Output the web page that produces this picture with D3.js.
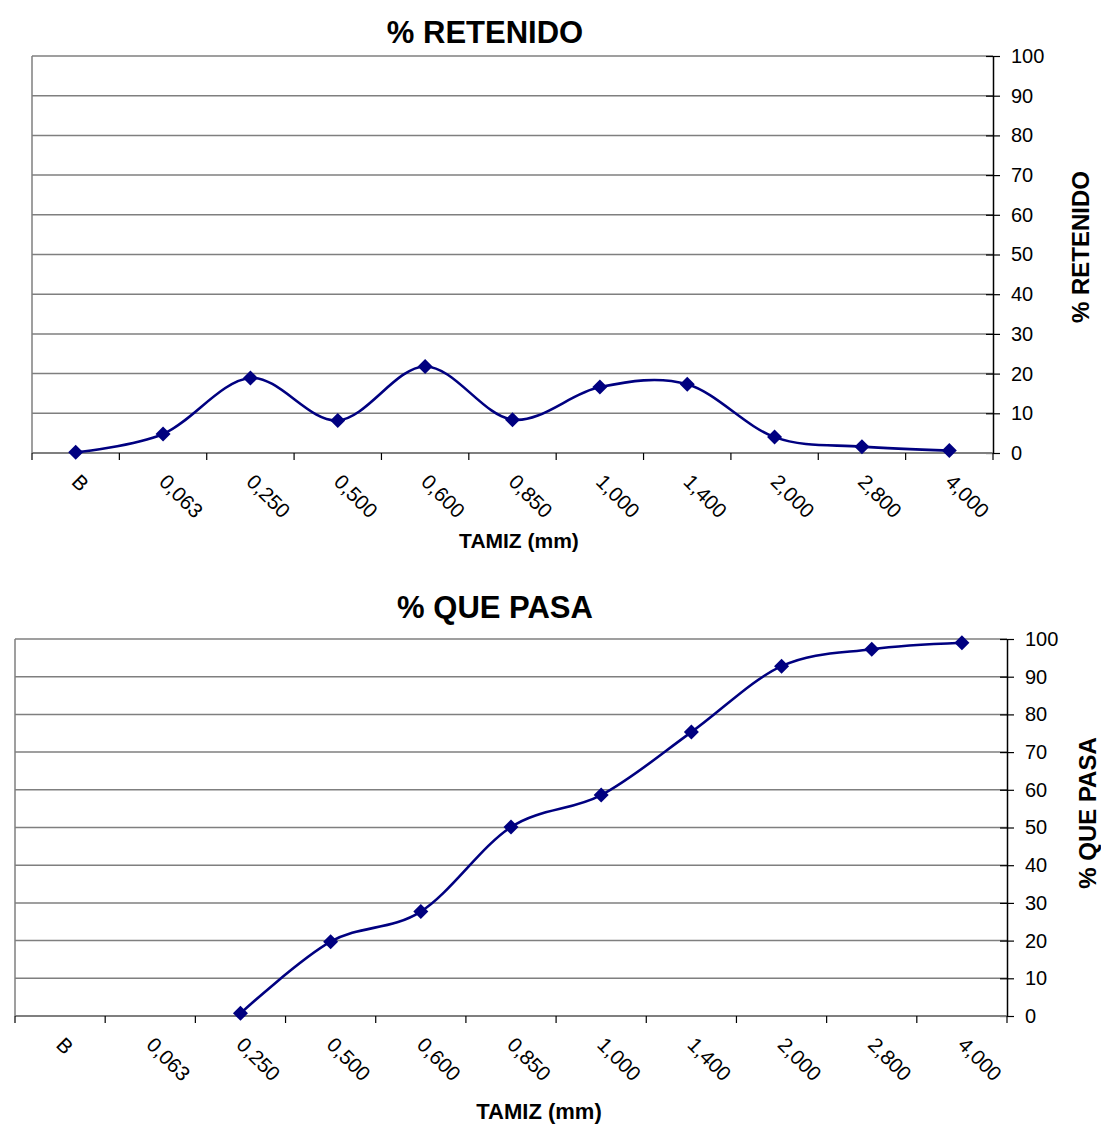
<!DOCTYPE html>
<html><head><meta charset="utf-8">
<script src="https://cdn.jsdelivr.net/npm/d3@7"></script>
<style>body{margin:0;background:#fff;} text{font-family:"Liberation Sans",Arial,sans-serif;}</style>
</head><body>
<svg id="c" width="1101" height="1124"></svg>
<script>
const categories = ["B","0,063","0,250","0,500","0,600","0,850","1,000","1,400","2,000","2,800","4,000"];
const retenido = [0.2,4.8,18.9,8.2,21.8,8.4,16.6,17.3,4.0,1.6,0.6];
const quePasa = [null,null,0.7,19.7,27.7,50.1,58.6,75.3,92.8,97.3,99.0];
const yTicks = [0,10,20,30,40,50,60,70,80,90,100];

const svg = d3.select("#c");

function drawChart(cfg){
  const {left,right,top,bottom,values,title,titleX,titleY,xTitleX,xTitleY,xTitleSize,yTitleX,yTitleY} = cfg;
  const g = svg.append("g");
  const x = d3.scaleBand().domain(categories).range([left,right]);
  const y = d3.scaleLinear().domain([0,100]).range([bottom,top]);
  g.append("g").selectAll("line").data(yTicks).join("line")
    .attr("x1",left).attr("x2",right).attr("y1",d=>y(d)).attr("y2",d=>y(d))
    .attr("stroke","#7f7f7f").attr("stroke-width",1.5);
  g.append("line").attr("x1",left).attr("x2",left).attr("y1",top).attr("y2",bottom)
    .attr("stroke","#7f7f7f").attr("stroke-width",1.5);
  const ya = d3.axisRight(y).tickValues(yTicks).tickSize(7).tickPadding(11).tickSizeOuter(0);
  const yg = g.append("g").attr("transform",`translate(${right},0)`).call(ya);
  yg.select(".domain").attr("stroke","#000").attr("stroke-width",1.5);
  yg.selectAll(".tick line").attr("stroke","#000").attr("stroke-width",1.2).attr("x1",-7);
  yg.selectAll(".tick text").attr("font-size",20).attr("fill","#000").attr("font-family","Liberation Sans, Arial, sans-serif");
  const bounds = categories.map(c=>x(c)).concat([right]);
  g.append("line").attr("x1",left).attr("x2",right).attr("y1",bottom).attr("y2",bottom)
    .attr("stroke","#7f7f7f").attr("stroke-width",1.8);
  g.append("g").selectAll("line").data(bounds).join("line")
    .attr("x1",d=>d).attr("x2",d=>d).attr("y1",bottom).attr("y2",bottom+7)
    .attr("stroke","#000").attr("stroke-width",1.2);
  g.append("g").selectAll("text").data(categories).join("text")
    .attr("transform",d=>`translate(${x(d)+x.bandwidth()/2},${bottom+25}) rotate(45)`)
    .attr("font-size",20.5).attr("dy","0.35em").attr("text-anchor","start").text(d=>d);
  const pts = categories.map((c,i)=>({c,v:values[i]})).filter(d=>d.v!=null);
  const line = d3.line().x(d=>x(d.c)+x.bandwidth()/2).y(d=>y(d.v)).curve(d3.curveCardinal.tension(0));
  g.append("path").datum(pts).attr("d",line).attr("fill","none").attr("stroke","#000080").attr("stroke-width",2.6);
  g.append("g").selectAll("path").data(pts).join("path")
    .attr("d","M0,-7.5L7.5,0L0,7.5L-7.5,0Z")
    .attr("transform",d=>`translate(${x(d.c)+x.bandwidth()/2},${y(d.v)})`)
    .attr("fill","#000080");
  g.append("text").attr("x",titleX).attr("y",titleY).attr("text-anchor","middle")
    .attr("font-size",31).attr("font-weight","bold").text(title);
  g.append("text").attr("x",xTitleX).attr("y",xTitleY).attr("text-anchor","middle")
    .attr("font-size",xTitleSize).attr("font-weight","bold").text("TAMIZ (mm)");
  g.append("text").attr("transform",`translate(${yTitleX},${yTitleY}) rotate(-90)`).attr("text-anchor","middle")
    .attr("dominant-baseline","central")
    .attr("font-size",24).attr("font-weight","bold").text(title);
}

drawChart({left:32,right:993,top:56,bottom:453,values:retenido,title:"% RETENIDO",
  titleX:485,titleY:43,xTitleX:519,xTitleY:548,xTitleSize:21,yTitleX:1080,yTitleY:247});
drawChart({left:15,right:1007,top:639,bottom:1016,values:quePasa,title:"% QUE PASA",
  titleX:495,titleY:618,xTitleX:539,xTitleY:1119,xTitleSize:22,yTitleX:1087,yTitleY:813});
</script>
</body></html>
